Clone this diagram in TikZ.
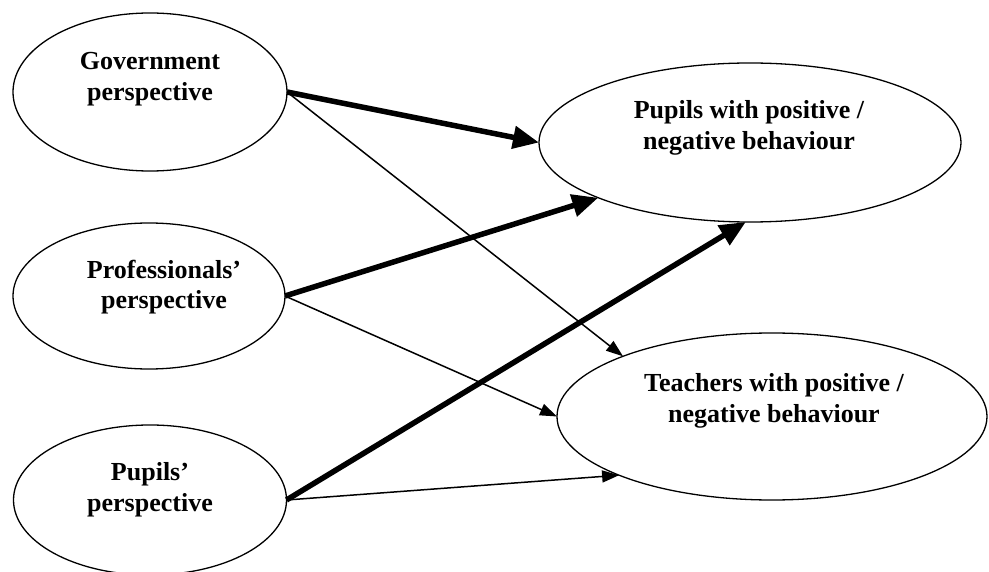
\documentclass[tikz,border=0pt]{standalone}
\usepackage{fontspec}
\setmainfont{Liberation Serif}
\usetikzlibrary{shapes.geometric,arrows.meta}
\begin{document}
\begin{tikzpicture}[x=1pt,y=-1pt,
  oval/.style={ellipse,draw,line width=1.3pt,inner sep=0pt,outer sep=0pt},
  lbl/.style={align=center,inner sep=0pt,font=\fontsize{26}{31}\selectfont\bfseries},
  strong/.style={line width=5.5pt,-{Triangle[length=26pt,width=22pt]}},
  weak/.style={line width=1.5pt,-{Triangle[length=17pt,width=12pt]}}]
\useasboundingbox (0,0) rectangle (989,572);

% perspectives on the left
\node[oval,minimum width=274pt,minimum height=158pt] (gov)  at (150,92)  {};
\node[oval,minimum width=272pt,minimum height=146pt] (prof) at (149,296) {};
\node[oval,minimum width=273pt,minimum height=150pt] (pup)  at (150,500) {};

% behaviour outcomes on the right
\node[oval,minimum width=422pt,minimum height=159pt] (pw) at (750,142.5) {};
\node[oval,minimum width=430pt,minimum height=167pt] (tw) at (772,416.5) {};

% texts, set towards the top of each oval (base = last line)
\node[lbl,anchor=base] (govt)  at (150,101) {Government\\perspective};
\node[lbl,anchor=base] (proft) at (164,309) {Professionals’\\perspective};
\node[lbl,anchor=base] (pupt)  at (150,511) {Pupils’\\perspective};
\node[lbl,anchor=base] (pwt)   at (749,150) {Pupils with positive /\\negative behaviour};
\node[lbl,anchor=base] (twt)   at (774,422) {Teachers with positive /\\negative behaviour};

% influences
\draw[strong] (gov.east)  -- (pw.west);
\draw[strong] (prof.east) -- (pw.200);
\draw[strong] (pup.east)  -- (pw.267);
\draw[weak]   (gov.east)  -- (tw.158.6);
\draw[weak]   (prof.east) -- (tw.west);
\draw[weak]   (pup.east)  -- (tw.201);
\end{tikzpicture}
\end{document}
